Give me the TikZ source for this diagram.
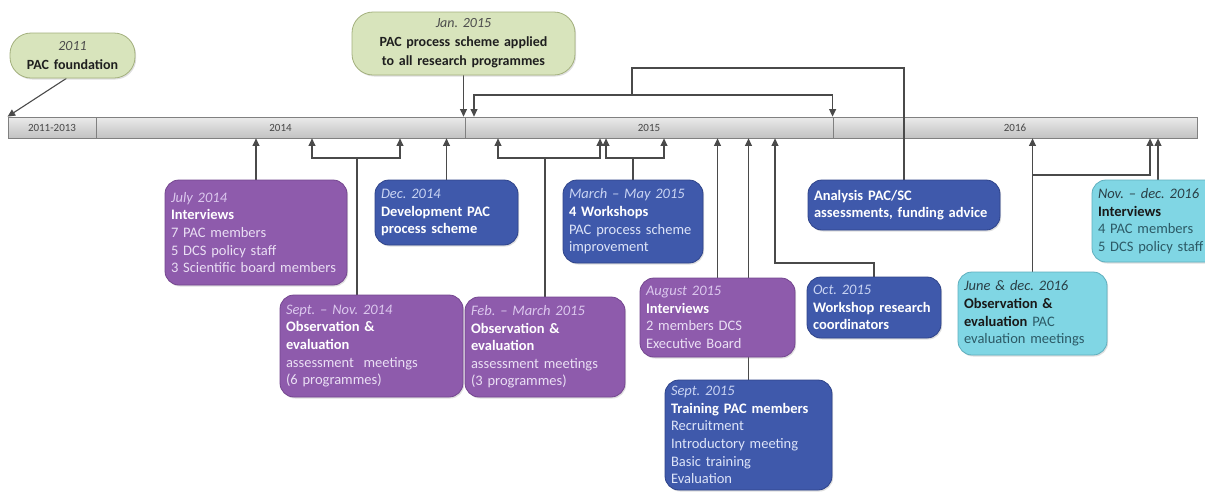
\documentclass[tikz,border=0pt]{standalone}
\usepackage{fontspec}
\setmainfont{Carlito}
\usetikzlibrary{arrows.meta,shadows}
\definecolor{purp}{HTML}{8E5BAC}
\definecolor{purpD}{HTML}{74468F}
\definecolor{purpDate}{HTML}{DCC8EE}
\definecolor{purpBody}{HTML}{EADFF4}
\definecolor{blu}{HTML}{3F59AB}
\definecolor{bluD}{HTML}{2E438A}
\definecolor{bluDate}{HTML}{C9D4F3}
\definecolor{bluBody}{HTML}{DDE4F8}
\definecolor{cya}{HTML}{80D6E4}
\definecolor{cyaD}{HTML}{5FAFBE}
\definecolor{cyaDate}{HTML}{2A3F46}
\definecolor{cyaBody}{HTML}{2C5A66}
\definecolor{grn}{HTML}{D8E4BC}
\definecolor{grnD}{HTML}{A3B07D}
\definecolor{lineC}{HTML}{4A4A4A}
\newcommand\boxdate[1]{{\itshape\color{dtc}#1}}
\newcommand\boxtitle[1]{{\bfseries\color{ttc}#1}}
\colorlet{dtc}{black}
\colorlet{ttc}{black}
\frenchspacing
\pgfdeclarelayer{bar}
\pgfdeclarelayer{lines}
\pgfsetlayers{bar,lines,main}
\tikzset{
  box/.style={rounded corners=14pt, draw, line width=0.8pt, inner xsep=6pt, inner ysep=3pt,
    align=left, font=\fontsize{14.5}{17.6}\selectfont\frenchspacing,
    drop shadow={opacity=0.25, shadow xshift=1.2pt, shadow yshift=-1.5pt}},
  pbox/.style={box, fill=purp, draw=purpD, text=purpBody,
    execute at begin node={\colorlet{dtc}{purpDate}\colorlet{ttc}{white}}},
  bbox/.style={box, fill=blu, draw=bluD, text=bluBody,
    execute at begin node={\colorlet{dtc}{bluDate}\colorlet{ttc}{white}}},
  cbox/.style={box, fill=cya, draw=cyaD, text=cyaBody,
    execute at begin node={\colorlet{dtc}{cyaDate}\colorlet{ttc}{black!90}}},
  gbox/.style={box, rounded corners=21pt, fill=grn, draw=grnD, text=black!85, align=center,
    font=\fontsize{14}{19}\selectfont\frenchspacing,
    execute at begin node={\colorlet{dtc}{black!70}\colorlet{ttc}{black!88}}},
  cell/.style={draw=black!50, line width=0.8pt, top color=black!8, bottom color=black!24,
    minimum height=21pt, inner sep=0pt, font=\fontsize{11}{12}\selectfont, text=black!72},
  arr/.style={draw=lineC, line width=1.1pt, -{Triangle[length=7.5pt,width=7pt]}},
  ln/.style={draw=lineC, line width=1.1pt}
}
\begin{document}
\begin{tikzpicture}[x=1pt,y=1pt]
\useasboundingbox (0,0) rectangle (1205,-491);
% timeline bar
\begin{pgfonlayer}{bar}
\fill[white] (0,0) rectangle (1205,-491);
\node[cell, minimum width=88pt]  (c1) at (52,-127.5)    {2011-2013};
\node[cell, minimum width=369pt] (c2) at (280.5,-127.5) {2014};
\node[cell, minimum width=368pt] (c3) at (649,-127.5)   {2015};
\node[cell, minimum width=364pt] (c4) at (1015,-127.5)  {2016};
\end{pgfonlayer}
% top boxes
\node[gbox, text width=113pt, minimum height=45pt] (found) at (72.5,-55.5)
  {\boxdate{2011}\\\boxtitle{PAC foundation}};
\node[gbox, text width=211pt, minimum height=63pt] (jan15) at (463.5,-43.5)
  {\boxdate{Jan. 2015}\\\boxtitle{PAC process scheme applied}\\\boxtitle{to all research programmes}};
% lower boxes
\node[pbox, text width=170pt, minimum height=105pt] (jul14) at (256,-232.5)
  {\boxdate{July 2014}\\\boxtitle{Interviews}\\7 PAC members\\5 DCS policy staff\\3 Scientific board members};
\node[pbox, text width=171pt, minimum height=102pt] (sepnov14) at (371.5,-346)
  {\boxdate{Sept. -- Nov. 2014}\\\boxtitle{Observation \&}\\\boxtitle{evaluation}\\assessment\ \ meetings\\(6 programmes)};
\node[bbox, text width=131pt, minimum height=65pt] (dec14) at (446.5,-212.5)
  {\boxdate{Dec. 2014}\\\boxtitle{Development PAC}\\\boxtitle{process scheme}};
\node[pbox, text width=148pt, minimum height=100pt] (febmar15) at (545,-347)
  {\boxdate{Feb. -- March 2015}\\\boxtitle{Observation \&}\\\boxtitle{evaluation}\\assessment meetings\\(3 programmes)};
\node[bbox, text width=128pt, minimum height=83pt] (marmay15) at (633,-221.5)
  {\boxdate{March -- May 2015}\\\boxtitle{4 Workshops}\\PAC process scheme\\improvement};
\node[pbox, text width=143pt, minimum height=79pt] (aug15) at (717.5,-317.5)
  {\boxdate{August 2015}\\\boxtitle{Interviews}\\2 members DCS\\Executive Board};
\node[bbox, text width=155pt, minimum height=110pt] (sep15) at (748.5,-435)
  {\boxdate{Sept. 2015}\\\boxtitle{Training PAC members}\\Recruitment\\Introductory meeting\\Basic training\\Evaluation};
\node[bbox, text width=180pt, minimum height=50pt] (ana) at (904,-205)
  {\boxtitle{Analysis PAC/SC}\\\boxtitle{assessments, funding advice}};
\node[bbox, text width=122pt, minimum height=61pt] (oct15) at (874,-307.5)
  {\boxdate{Oct. 2015}\\\boxtitle{Workshop research}\\\boxtitle{coordinators}};
\node[cbox, text width=137pt, minimum height=83pt] (jun16) at (1032.5,-313.5)
  {\boxdate{June \& dec. 2016}\\\boxtitle{Observation \&}\\\boxtitle{evaluation} PAC\\evaluation meetings};
\node[cbox, text width=120pt, minimum height=82pt] (nov16) at (1158,-221)
  {\boxdate{Nov. -- dec. 2016}\\\boxtitle{Interviews}\\4 PAC members\\5 DCS policy staff};
% junction coordinates
\coordinate (tL) at (632,-68);
\coordinate (tM) at (632,-95);
\coordinate (tA) at (474,-95);
\coordinate (j1) at (357,-158);
\coordinate (j1a) at (312,-158);
\coordinate (j1b) at (400,-158);
\coordinate (j2) at (545,-158);
\coordinate (j2a) at (498,-158);
\coordinate (j2b) at (600,-158);
\coordinate (j3) at (633,-158);
\coordinate (j3a) at (606,-158);
\coordinate (j3b) at (664,-158);
\coordinate (k1) at (775,-263);
\coordinate (m1) at (1032.5,-175);
\coordinate (m2) at (1150,-175);
\begin{pgfonlayer}{lines}
\draw[arr] (found.-105) -- (c1.north west);
\draw[arr] (jan15.south) -- (jan15.south |- c2.north);
\draw[ln] (ana.north) |- (tL) -- (tM);
\draw[arr] (tM) -| (tA |- c3.north);
\draw[arr] (tM) -| (c4.north west);
\draw[arr] (jul14.north) -- (jul14.north |- c2.south);
\draw[ln] (sepnov14.north -| j1) -- (j1);
\draw[arr] (j1) -- (j1a) -- (j1a |- c2.south);
\draw[arr] (j1) -- (j1b) -- (j1b |- c2.south);
\draw[arr] (dec14.north) -- (dec14.north |- c2.south);
\draw[ln] (febmar15.north -| j2) -- (j2);
\draw[arr] (j2) -- (j2a) -- (j2a |- c3.south);
\draw[arr] (j2) -- (j2b) -- (j2b |- c3.south);
\draw[ln] (marmay15.north -| j3) -- (j3);
\draw[arr] (j3) -- (j3a) -- (j3a |- c3.south);
\draw[arr] (j3) -- (j3b) -- (j3b |- c3.south);
\draw[arr] (aug15.north) -- (aug15.north |- c3.south);
\draw[arr] (sep15.north) -- (sep15.north |- c3.south);
\draw[arr] (oct15.north) |- (k1) -- (k1 |- c3.south);
\draw[arr] (jun16.north) -- (jun16.north |- c4.south);
\draw[arr] (m1) -- (m2) -- (m2 |- c4.south);
\draw[arr] (nov16.north) -- (nov16.north |- c4.south);
\end{pgfonlayer}
\end{tikzpicture}
\end{document}
